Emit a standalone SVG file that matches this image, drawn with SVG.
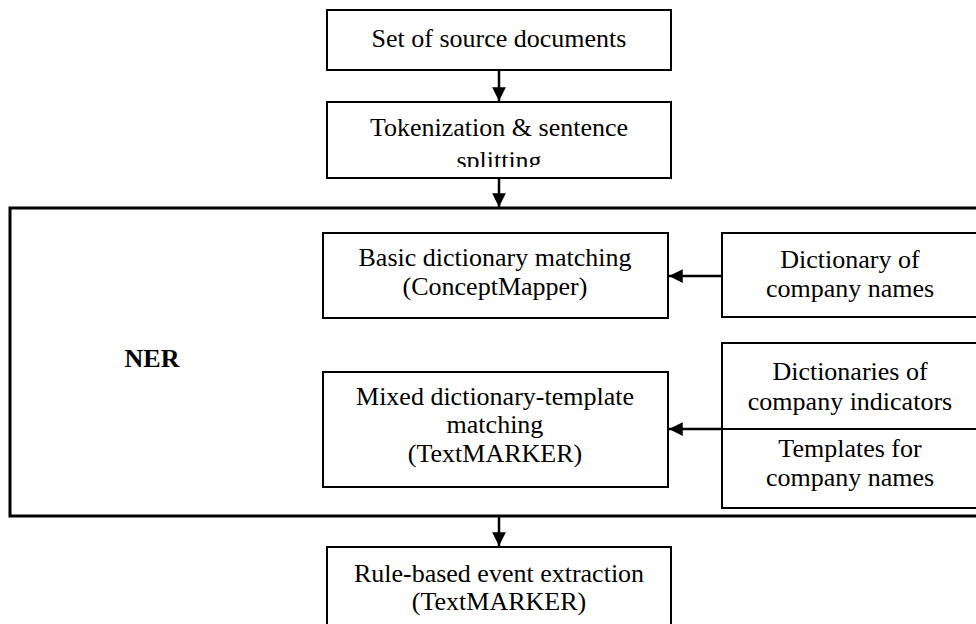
<svg xmlns="http://www.w3.org/2000/svg" width="976" height="624" viewBox="0 0 976 624">
<style>
.box{fill:#fff;stroke:#000;stroke-width:2}
.ner{fill:#fff;stroke:#000;stroke-width:3}
.t{font-family:"Liberation Serif","Times New Roman",serif;font-size:26px;fill:#000;text-anchor:middle}
.b{font-weight:bold}
.c{stroke:#000;stroke-width:2.5;fill:none}
</style>
<defs>
<marker id="ah" viewBox="0 0 10 10" refX="10" refY="5" markerWidth="5.5" markerHeight="5.5" orient="auto" markerUnits="strokeWidth">
<path d="M0,0 L10,5 L0,10 z" fill="#000"/>
</marker>
<clipPath id="tokclip"><rect x="327" y="102" width="344" height="65"/></clipPath>
</defs>
<rect width="976" height="624" fill="#fff"/>
<g id="ner">
<rect class="ner" x="10" y="208" width="980" height="308"/>
<text class="t b" x="152" y="367">NER</text>
</g>
<g id="source-docs">
<rect class="box" x="327" y="10" width="344" height="60"/>
<text class="t" x="499" y="47">Set of source documents</text>
</g>
<g id="tokenization">
<rect class="box" x="327" y="102" width="344" height="76"/>
<g clip-path="url(#tokclip)">
<text class="t" x="499" y="136">Tokenization &amp; sentence</text>
<text class="t" x="499" y="169">splitting</text>
</g>
</g>
<g id="basic-matching">
<rect class="box" x="323" y="233" width="345" height="85"/>
<text class="t" x="495" y="266">Basic dictionary matching</text>
<text class="t" x="495" y="295">(ConceptMapper)</text>
</g>
<g id="dict-company-names">
<rect class="box" x="722" y="233" width="270" height="84"/>
<text class="t" x="850" y="268">Dictionary of</text>
<text class="t" x="850" y="297">company names</text>
</g>
<g id="mixed-matching">
<rect class="box" x="323" y="372" width="345" height="115"/>
<text class="t" x="495" y="405">Mixed dictionary-template</text>
<text class="t" x="495" y="433">matching</text>
<text class="t" x="495" y="462">(TextMARKER)</text>
</g>
<g id="indicators-templates">
<rect class="box" x="722" y="343" width="270" height="165"/>
<line x1="722" y1="429" x2="992" y2="429" stroke="#000" stroke-width="2"/>
<text class="t" x="850" y="380">Dictionaries of</text>
<text class="t" x="850" y="410">company indicators</text>
<text class="t" x="850" y="457">Templates for</text>
<text class="t" x="850" y="486">company names</text>
</g>
<g id="event-extraction">
<rect class="box" x="327" y="547" width="344" height="90"/>
<text class="t" x="499" y="582">Rule-based event extraction</text>
<text class="t" x="499" y="610">(TextMARKER)</text>
</g>
<g id="connectors">
<line class="c" x1="499" y1="70" x2="499" y2="101" marker-end="url(#ah)"/>
<line class="c" x1="499" y1="178" x2="499" y2="207" marker-end="url(#ah)"/>
<line class="c" x1="499" y1="516" x2="499" y2="546" marker-end="url(#ah)"/>
<line class="c" x1="722" y1="276" x2="669" y2="276" marker-end="url(#ah)"/>
<line class="c" x1="722" y1="429" x2="669" y2="429" marker-end="url(#ah)"/>
</g>
</svg>
